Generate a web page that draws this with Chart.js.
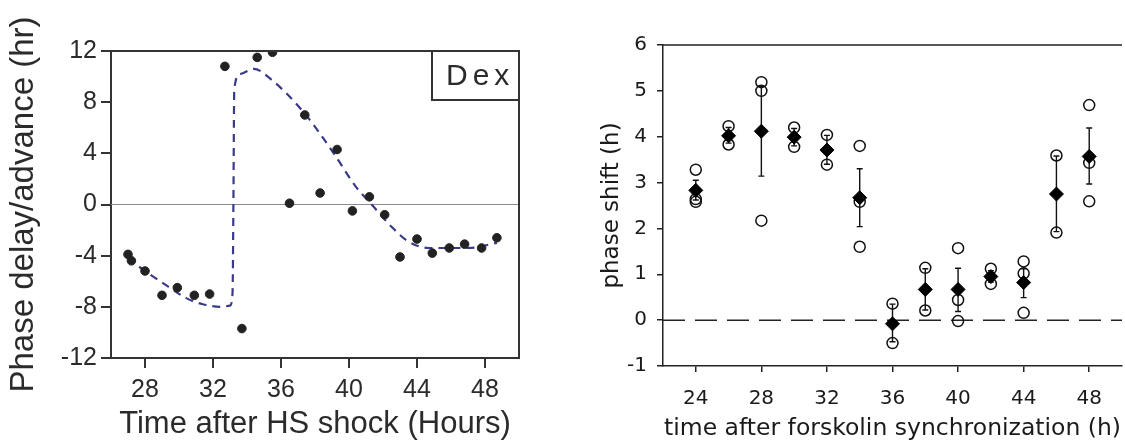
<!DOCTYPE html>
<html>
<head>
<meta charset="utf-8">
<script src="https://cdn.jsdelivr.net/npm/chart.js@4.4.1/dist/chart.umd.min.js"></script>
<style>
  html, body { margin: 0; padding: 0; background: #fff; overflow: hidden; }
  #wrap { position: relative; width: 1125px; height: 443px; overflow: hidden; }
  #hsChart { position: absolute; left: 0; top: 0; }
  #fskChart { position: absolute; left: 560px; top: 0; }
</style>
</head>
<body>
<div id="wrap">
  <canvas id="hsChart" width="560" height="443"></canvas>
  <canvas id="fskChart" width="570" height="443"></canvas>
</div>
<script>
// left panel - phase shift after HS shock + Dex
const hsTime = [27.0, 27.2, 28.0, 29.0, 29.9, 30.9, 31.8, 32.7, 33.7, 34.6, 35.5, 36.5, 37.4,
  38.3, 39.3, 40.2, 41.2, 42.1, 43.0, 44.0, 44.9, 45.9, 46.8, 47.8, 48.7];
const hsShift = [-3.9, -4.4, -5.2, -7.1, -6.5, -7.1, -7.0, 10.8, -9.7, 11.5, 11.9, 0.1, 7.0,
  0.9, 4.3, -0.5, 0.6, -0.8, -4.1, -2.7, -3.8, -3.4, -3.1, -3.4, -2.6];
// dashed fit curve
const hsFitTime = [27.0, 28.0, 29.35, 30.4, 31.4, 32.5, 33.0, 33.15, 33.2, 33.25, 33.6, 34.4,
  35.4, 37.4, 39.1, 40.4, 41.4, 42.4, 43.5, 44.7, 45.8, 47.0, 48.7];
const hsFitShift = [-4.2, -5.2, -6.4, -7.3, -7.8, -8.0, -7.9, -6.9, 0.0, 9.0, 10.2, 10.6,
  9.8, 7.1, 4.0, 1.4, -0.1, -1.6, -2.9, -3.4, -3.4, -3.4, -3.0];
const hsXTicks = [28, 32, 36, 40, 44, 48];
const hsYTicks = [-12, -8, -4, 0, 4, 8, 12];

// right panel - forskolin synchronization
const fskTime = [24, 26, 28, 30, 32, 34, 36, 38, 40, 42, 44, 46, 48];
const fskMean = [2.83, 4.02, 4.12, 3.99, 3.71, 2.67, -0.08, 0.67, 0.67, 0.95, 0.82, 2.75, 3.57];
const fskErrHigh = [3.05, 4.2, 5.1, 4.18, 4.03, 3.3, 0.35, 1.12, 1.13, 1.08, 1.12, 3.58, 4.19];
const fskErrLow = [2.62, 3.86, 3.14, 3.8, 3.4, 2.04, -0.47, 0.22, 0.19, 0.83, 0.49, 1.93, 2.97];
const fskRep1 = [3.28, 4.23, 5.19, 4.2, 4.04, 3.8, 0.36, 1.14, 1.57, 1.12, 1.28, 3.59, 4.69];
const fskRep2 = [2.64, 3.83, 5.0, 3.78, 3.39, 2.58, -0.5, 0.21, 0.44, 0.79, 1.02, 1.91, 3.43];
const fskRep3 = [2.58, null, 2.17, null, null, 1.6, null, null, -0.02, null, 0.16, null, 2.59];
const fskXTicks = [24, 28, 32, 36, 40, 44, 48];
const fskYTicks = [-1, 0, 1, 2, 3, 4, 5, 6];

function toPoints(xs, ys) {
  return xs.map((x, i) => ({ x: x, y: ys[i] })).filter(p => p.y !== null);
}
function fixTicks(values) {
  return function (scale) { scale.ticks = values.map(v => ({ value: v })); };
}

const hsFrame = {
  id: 'hsFrame',
  beforeDatasetsDraw(chart) {
    const { ctx, chartArea: a, scales } = chart;
    const y0 = scales.y.getPixelForValue(0);
    ctx.save();
    ctx.strokeStyle = '#8c8c8c';
    ctx.lineWidth = 1.2;
    ctx.beginPath();
    ctx.moveTo(a.left, y0);
    ctx.lineTo(a.right, y0);
    ctx.stroke();
    ctx.restore();
  },
  afterDraw(chart) {
    const { ctx, chartArea: a } = chart;
    ctx.save();
    ctx.strokeStyle = '#333';
    ctx.lineWidth = 2;
    ctx.beginPath();
    ctx.moveTo(a.left, a.top);
    ctx.lineTo(a.right, a.top);
    ctx.lineTo(a.right, a.bottom);
    ctx.stroke();
    // Dex box
    const bw = 87, bh = 49;
    ctx.strokeRect(a.right - bw, a.top, bw, bh);
    ctx.fillStyle = '#2a2a2a';
    ctx.font = '30px "Liberation Sans"';
    ctx.letterSpacing = '5px';
    ctx.textBaseline = 'middle';
    ctx.fillText('Dex', a.right - bw + 14, a.top + bh / 2 + 1);
    ctx.restore();
  }
};

const fskFrame = {
  id: 'fskFrame',
  beforeDatasetsDraw(chart) {
    const { ctx, chartArea: a, scales } = chart;
    const xs = scales.x, ys = scales.y;
    ctx.save();
    ctx.strokeStyle = '#222';
    ctx.lineWidth = 1.5;
    // top frame line
    ctx.beginPath();
    ctx.moveTo(a.left, a.top);
    ctx.lineTo(a.right, a.top);
    ctx.stroke();
    // dashed zero line
    const y0 = ys.getPixelForValue(0);
    ctx.setLineDash([22, 10]);
    ctx.beginPath();
    ctx.moveTo(a.left, y0);
    ctx.lineTo(a.right, y0);
    ctx.stroke();
    ctx.setLineDash([]);
    // error bars
    ctx.strokeStyle = '#111';
    ctx.lineWidth = 1.4;
    fskTime.forEach((t, i) => {
      const px = xs.getPixelForValue(t);
      const hi = ys.getPixelForValue(fskErrHigh[i]);
      const lo = ys.getPixelForValue(fskErrLow[i]);
      ctx.beginPath();
      ctx.moveTo(px, hi); ctx.lineTo(px, lo);
      ctx.moveTo(px - 3, hi); ctx.lineTo(px + 3, hi);
      ctx.moveTo(px - 3, lo); ctx.lineTo(px + 3, lo);
      ctx.stroke();
    });
    ctx.restore();
  }
};

const hsFont = '"Liberation Sans", Arial, sans-serif';
new Chart(document.getElementById('hsChart'), {
  type: 'scatter',
  data: {
    datasets: [
      {
        label: 'measured',
        data: toPoints(hsTime, hsShift),
        pointRadius: 4.3,
        pointBackgroundColor: '#222',
        pointBorderColor: '#222',
        order: 0
      },
      {
        label: 'fit',
        data: toPoints(hsFitTime, hsFitShift),
        showLine: true,
        cubicInterpolationMode: 'monotone',
        borderColor: '#3a3a8a',
        borderWidth: 2.2,
        borderDash: [8, 6],
        pointRadius: 0,
        order: 1
      }
    ]
  },
  options: {
    responsive: false,
    animation: false,
    events: [],
    layout: { padding: { top: 51, right: 41, left: 0, bottom: 0 } },
    plugins: { legend: { display: false }, tooltip: { enabled: false } },
    scales: {
      x: {
        type: 'linear', min: 26, max: 50,
        afterBuildTicks: fixTicks(hsXTicks),
        afterFit: s => { s.height = 85; },
        border: { display: true, color: '#333', width: 2 },
        grid: { drawOnChartArea: false, drawTicks: true, tickLength: 10, color: '#333', lineWidth: 2 },
        ticks: { color: '#2b2b2b', font: { family: hsFont, size: 25 }, padding: 7, maxRotation: 0 },
        title: { display: true, text: 'Time after HS shock (Hours)', color: '#2b2b2b',
          font: { family: hsFont, size: 31 }, padding: { top: 0, bottom: 0 } }
      },
      y: {
        type: 'linear', min: -12, max: 12,
        afterBuildTicks: fixTicks(hsYTicks),
        afterFit: s => { s.width = 111; },
        border: { display: true, color: '#333', width: 2 },
        grid: { drawOnChartArea: false, drawTicks: true, tickLength: 10, color: '#333', lineWidth: 2 },
        ticks: { color: '#2b2b2b', font: { family: hsFont, size: 25 }, padding: 4 },
        title: { display: true, text: 'Phase delay/advance (hr)', color: '#2b2b2b',
          font: { family: hsFont, size: 33 }, padding: { top: 4, bottom: 0 } }
      }
    }
  },
  plugins: [hsFrame]
});

const fskFont = '"DejaVu Sans", Verdana, sans-serif';
new Chart(document.getElementById('fskChart'), {
  type: 'scatter',
  data: {
    datasets: [
      {
        label: 'mean',
        data: toPoints(fskTime, fskMean),
        pointStyle: 'rectRot',
        pointRadius: 7,
        pointBackgroundColor: '#000',
        pointBorderColor: '#000',
        order: 0
      },
      {
        label: 'replicates',
        data: toPoints(fskTime, fskRep1).concat(toPoints(fskTime, fskRep2), toPoints(fskTime, fskRep3)),
        pointStyle: 'circle',
        pointRadius: 5.5,
        pointBackgroundColor: 'rgba(255,255,255,0)',
        pointBorderColor: '#111',
        pointBorderWidth: 1.5,
        order: 1
      }
    ]
  },
  options: {
    responsive: false,
    animation: false,
    events: [],
    layout: { padding: { top: 45, right: 2, left: 0, bottom: 0 } },
    plugins: { legend: { display: false }, tooltip: { enabled: false } },
    scales: {
      x: {
        type: 'linear', min: 22, max: 50,
        afterBuildTicks: fixTicks(fskXTicks),
        afterFit: s => { s.height = 77; },
        border: { display: true, color: '#222', width: 1.5 },
        grid: { drawOnChartArea: false, drawTicks: true, tickLength: 6, color: '#222', lineWidth: 1.5 },
        ticks: { color: '#1a1a1a', font: { family: fskFont, size: 20 }, padding: 15, maxRotation: 0 },
        title: { display: true, text: 'time after forskolin synchronization (h)', color: '#1a1a1a',
          font: { family: fskFont, size: 23.5 }, padding: { top: 0, bottom: 0 } }
      },
      y: {
        type: 'linear', min: -1, max: 6,
        afterBuildTicks: fixTicks(fskYTicks),
        afterFit: s => { s.width = 103; },
        border: { display: true, color: '#222', width: 1.5 },
        grid: { drawOnChartArea: false, drawTicks: true, tickLength: 6, color: '#222', lineWidth: 1.5 },
        ticks: { color: '#1a1a1a', font: { family: fskFont, size: 20 }, padding: 10 },
        title: { display: true, text: 'phase shift (h)', color: '#1a1a1a',
          font: { family: fskFont, size: 23 }, padding: { top: 38, bottom: 0 } }
      }
    }
  },
  plugins: [fskFrame]
});
</script>
</body>
</html>
